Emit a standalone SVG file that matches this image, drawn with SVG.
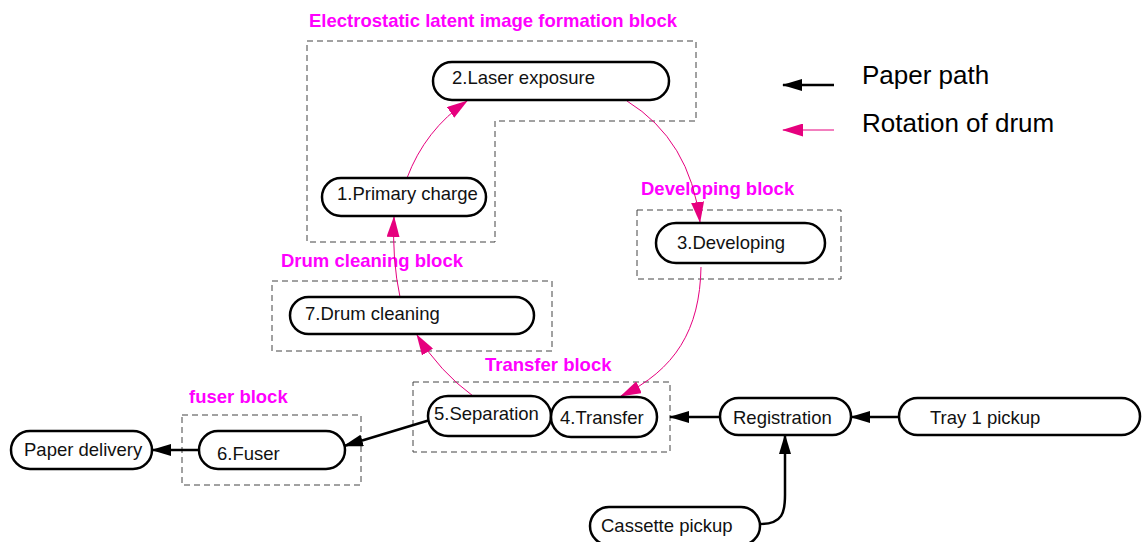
<svg xmlns="http://www.w3.org/2000/svg" width="1143" height="542" viewBox="0 0 1143 542">
<style>
.bg{fill:#fff}
.blk{fill:none;stroke:#444;stroke-width:1;stroke-dasharray:6 4}
.node{fill:#fff;stroke:#000;stroke-width:2.5}
.lbl{font-family:"Liberation Sans",Arial,sans-serif;font-size:18.5px;fill:#111}
.ttl{font-family:"Liberation Sans",Arial,sans-serif;font-size:18.5px;font-weight:bold;fill:#ff00ff}
.leg{font-family:"Liberation Sans",Arial,sans-serif;font-size:26px;fill:#000}
.paper{fill:none;stroke:#000;stroke-width:2.5;marker-end:url(#ab)}
.drum{fill:none;stroke:#e6007e;stroke-width:1;marker-end:url(#am)}
</style>
<defs>
<marker id="ab" markerUnits="userSpaceOnUse" markerWidth="20" markerHeight="12" viewBox="0 0 20 12" refX="19" refY="6" orient="auto"><path d="M0,0 L20,6 L0,12 z" fill="#000"/></marker>
<marker id="am" markerUnits="userSpaceOnUse" markerWidth="21" markerHeight="13" viewBox="0 0 21 13" refX="20" refY="6.5" orient="auto"><path d="M0,0 L21,6.5 L0,13 z" fill="#e6007e"/></marker>
</defs>
<rect class="bg" x="0" y="0" width="1143" height="542"/>

<g id="block-electrostatic">
<path class="blk" d="M307,41 L696,41 L696,121 L495,121 L495,242 L307,242 Z"/>
<text class="ttl" x="309" y="27">Electrostatic latent image formation block</text>
</g>
<g id="block-developing">
<rect class="blk" x="637" y="210" width="204" height="69"/>
<text class="ttl" x="641" y="195">Developing block</text>
</g>
<g id="block-drumcleaning">
<rect class="blk" x="272" y="281" width="280" height="70"/>
<text class="ttl" x="281" y="267">Drum cleaning block</text>
</g>
<g id="block-transfer">
<rect class="blk" x="413" y="382" width="257" height="70"/>
<text class="ttl" x="485" y="371">Transfer block</text>
</g>
<g id="block-fuser">
<rect class="blk" x="182" y="415" width="179" height="70"/>
<text class="ttl" x="189" y="403">fuser block</text>
</g>

<g id="connectors">
<path class="drum" d="M407,178 Q425,130 467,101"/>
<path class="drum" d="M627,101 Q690,140 700,222"/>
<path class="drum" d="M701,267 C700,330 675,370 621,396"/>
<path class="drum" d="M473,396 Q440,372 417,335"/>
<path class="drum" d="M400,297 Q392,260 394,217"/>
<path class="paper" d="M899,417 L851,417"/>
<path class="paper" d="M720,417 L670,417"/>
<path class="paper" d="M760,524 C783,524 785,512 785,495 L785,435"/>
<path class="paper" d="M430,420 L344,446"/>
<path class="paper" d="M199,450 L152,450"/>
</g>

<g id="node-laser">
<rect class="node" x="433" y="62" width="236" height="38" rx="19"/>
<text class="lbl" x="452" y="84">2.Laser exposure</text>
</g>
<g id="node-primary">
<rect class="node" x="322" y="178" width="164" height="38" rx="19"/>
<text class="lbl" x="337" y="200">1.Primary charge</text>
</g>
<g id="node-developing">
<rect class="node" x="656" y="223" width="169" height="40" rx="20"/>
<text class="lbl" x="677" y="249">3.Developing</text>
</g>
<g id="node-drumcleaning">
<rect class="node" x="290" y="297" width="244" height="37" rx="18.5"/>
<text class="lbl" x="305" y="320">7.Drum cleaning</text>
</g>
<g id="node-separation">
<rect class="node" x="428" y="396" width="123" height="40" rx="20"/>
<text class="lbl" x="434" y="420">5.Separation</text>
</g>
<g id="node-transfer">
<rect class="node" x="551" y="397" width="106" height="40" rx="20"/>
<text class="lbl" x="560" y="424">4.Transfer</text>
</g>
<g id="node-fuser">
<rect class="node" x="199" y="431" width="146" height="38" rx="19"/>
<text class="lbl" x="217" y="460">6.Fuser</text>
</g>
<g id="node-delivery">
<rect class="node" x="11" y="431" width="141" height="38" rx="19"/>
<text class="lbl" x="24" y="456">Paper delivery</text>
</g>
<g id="node-registration">
<rect class="node" x="720" y="398" width="131" height="37" rx="18.5"/>
<text class="lbl" x="733" y="424">Registration</text>
</g>
<g id="node-tray1">
<rect class="node" x="899" y="398" width="241" height="37" rx="18.5"/>
<text class="lbl" x="930" y="424">Tray 1 pickup</text>
</g>
<g id="node-cassette">
<rect class="node" x="590" y="507" width="170" height="38" rx="19"/>
<text class="lbl" x="601" y="532">Cassette pickup</text>
</g>

<g id="legend">
<path class="paper" d="M834,85 L783,85"/>
<text class="leg" x="862" y="84">Paper path</text>
<path class="drum" d="M834,130 L783,130"/>
<text class="leg" x="862" y="132">Rotation of drum</text>
</g>
</svg>
